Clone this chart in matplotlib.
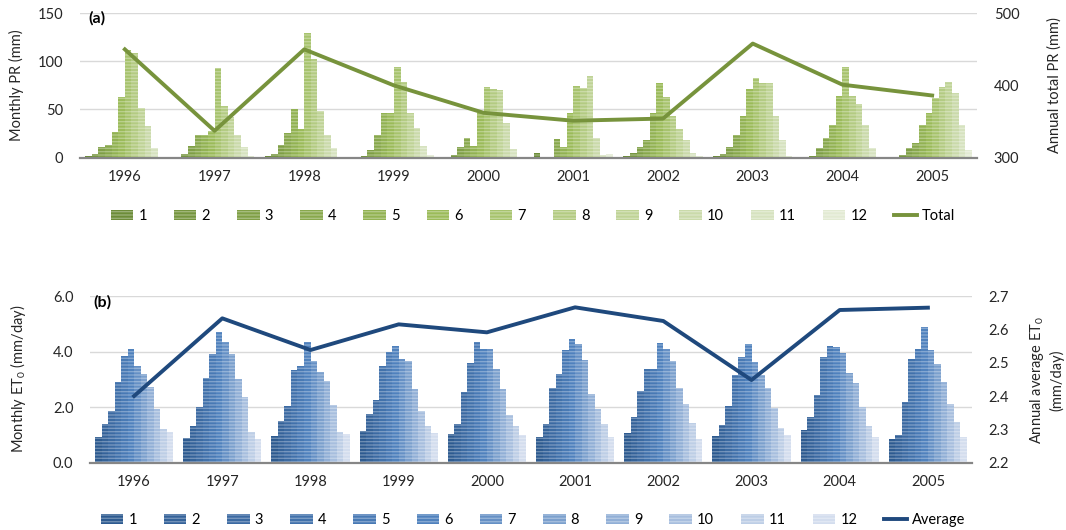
import matplotlib
matplotlib.use("Agg")
import matplotlib.pyplot as plt
import numpy as np
from matplotlib.colors import to_rgb
from matplotlib.lines import Line2D

plt.rcParams['font.family'] = ['Lato', 'DejaVu Sans']
plt.rcParams['mathtext.default'] = 'regular'
plt.rcParams['hatch.linewidth'] = 1.0

years = ["1996", "1997", "1998", "1999", "2000", "2001", "2002", "2003", "2004", "2005"]
months = [str(m) for m in range(1, 13)]

# monthly precipitation (mm), Jan..Dec for each year
pr_1996 = [2, 3.5, 11, 13, 27, 63, 112, 109, 51, 33, 9.5, 1]
pr_1997 = [0.7, 3.5, 12, 23, 23, 28, 93, 54, 42, 23, 11, 2]
pr_1998 = [1.4, 3.5, 13, 26, 50, 30, 130, 102, 48, 23, 9.4, 1]
pr_1999 = [0.8, 1.9, 7.8, 23.5, 46, 46, 94, 79, 46, 31, 12, 2.6]
pr_2000 = [0.5, 3, 11, 20, 12, 46, 73, 71, 70, 36, 8.5, 1]
pr_2001 = [4.2, 0, 0.3, 19, 10.5, 46, 74, 72, 85, 20, 3, 3.5]
pr_2002 = [1.9, 4.3, 11, 18, 46, 78, 63, 43, 30, 18, 4.3, 1.9]
pr_2003 = [1.7, 3.5, 11, 23, 43, 71, 83, 78, 78, 43, 18, 1.7]
pr_2004 = [0.8, 2, 10, 20, 34, 64, 94, 64, 56, 34, 10, 1]
pr_2005 = [0.7, 2.4, 9.4, 15, 34, 46, 62, 73, 79, 67, 34, 7.6]
pr_monthly = [pr_1996, pr_1997, pr_1998, pr_1999, pr_2000,
              pr_2001, pr_2002, pr_2003, pr_2004, pr_2005]
pr_total = [450, 337, 450, 400, 362, 351, 354, 458, 401, 386]

# monthly reference evapotranspiration (mm/day)
et_1996 = [0.94, 1.38, 1.87, 2.91, 3.84, 4.09, 3.48, 3.21, 2.73, 1.92, 1.20, 1.09]
et_1997 = [0.90, 1.33, 1.99, 3.06, 3.90, 4.69, 4.35, 3.90, 3.03, 2.37, 1.09, 0.84]
et_1998 = [0.97, 1.51, 2.04, 3.33, 3.49, 4.35, 3.67, 3.27, 2.94, 2.07, 1.09, 1.03]
et_1999 = [1.14, 1.77, 2.25, 3.48, 3.97, 4.20, 3.72, 3.66, 2.67, 1.86, 1.33, 1.06]
et_2000 = [1.02, 1.38, 2.55, 3.60, 4.35, 4.09, 4.11, 3.37, 2.64, 1.71, 1.33, 1.00]
et_2001 = [0.94, 1.41, 2.70, 3.18, 4.05, 4.47, 4.29, 3.69, 2.49, 1.92, 1.39, 0.94]
et_2002 = [1.06, 1.66, 2.58, 3.39, 3.37, 4.32, 4.11, 3.67, 2.68, 2.10, 1.42, 0.84]
et_2003 = [0.96, 1.36, 2.04, 3.15, 3.81, 4.26, 3.63, 3.15, 2.68, 1.96, 1.24, 1.00]
et_2004 = [1.18, 1.66, 2.44, 3.81, 4.20, 4.18, 3.96, 3.22, 2.88, 2.01, 1.32, 0.94]
et_2005 = [0.85, 1.00, 2.17, 3.75, 4.09, 4.89, 4.05, 3.54, 2.91, 2.10, 1.47, 0.94]
et_monthly = [et_1996, et_1997, et_1998, et_1999, et_2000,
              et_2001, et_2002, et_2003, et_2004, et_2005]
et_average = [2.400, 2.633, 2.538, 2.615, 2.591, 2.666, 2.625, 2.448, 2.658, 2.665]


def month_colors(c_dark, c_mid, c_light):
    a, b, c = (np.array(to_rgb(v)) for v in (c_dark, c_mid, c_light))
    out = []
    for m in range(12):
        if m <= 5:
            t = m / 5
            out.append(tuple(a + (b - a) * t))
        else:
            t = (m - 5) / 6
            out.append(tuple(b + (c - b) * t))
    return out


def lighten(c, f):
    c = np.array(c)
    return tuple(c + (1 - c) * f)


def draw_panel(ax, monthly, colors, line_vals, line_color):
    x = np.arange(len(years))
    w = 0.885 / 12
    handles = []
    for m in range(12):
        vals = [yr[m] for yr in monthly]
        b = ax.bar(x + (m - 5.5) * w, vals, width=w, color=colors[m],
                   edgecolor=lighten(colors[m], 0.3), linewidth=0,
                   hatch='-----', zorder=2)
        handles.append(b)
    ax.set_xlim(-0.5, len(years) - 0.5)
    ax.set_xticks(x)
    ax.set_xticklabels(years)
    ax.grid(axis='y', color='#d9d9d9', linewidth=1.0, zorder=0)
    ax.set_axisbelow(True)
    for s in ['top', 'left', 'right']:
        ax.spines[s].set_visible(False)
    ax.spines['bottom'].set_color('#868686')
    ax.spines['bottom'].set_linewidth(1.6)
    ax.tick_params(axis='x', length=0, pad=9, labelsize=10.5, labelcolor='#262626')
    ax.tick_params(axis='y', length=0, pad=12, labelsize=10.5, labelcolor='#262626')

    ax2 = ax.twinx()
    ax2.plot(x, line_vals, color=line_color, linewidth=2.8, zorder=3)
    for s in ax2.spines.values():
        s.set_visible(False)
    ax2.tick_params(axis='y', length=0, pad=12, labelsize=10.5, labelcolor='#262626')
    handles.append(Line2D([], [], color=line_color, linewidth=2.8))
    return ax2, handles


fig = plt.figure(figsize=(10.66, 5.30), dpi=100)

# (a) precipitation
ax_a = fig.add_axes([80 / 1066, 1 - 157.5 / 530, 897 / 1066, 144.2 / 530])
green = month_colors('#6c8c38', '#9bbb59', '#e2ead3')
ax_a2, h_a = draw_panel(ax_a, pr_monthly, green, pr_total, '#77933c')
ax_a.set_ylim(0, 150)
ax_a.set_yticks([0, 50, 100, 150])
ax_a2.set_ylim(300, 500)
ax_a2.set_yticks([300, 400, 500])
ax_a.set_ylabel("Monthly PR (mm)", fontsize=10.5, color='#262626')
ax_a.yaxis.set_label_coords(-0.062, 0.5)
ax_a2.set_ylabel("Annual total PR (mm)", fontsize=10.5, color='#262626')
ax_a2.yaxis.set_label_coords(1.078, 0.5)
ax_a.text(0.009, 0.965, "(a)", transform=ax_a.transAxes, fontsize=11.5,
          fontweight='bold', va='center', ha='left')
fig.legend(h_a, months + ["Total"], loc='center', bbox_to_anchor=(0.5, 1 - 216 / 530),
           ncol=13, frameon=False, fontsize=10.5, handlelength=1.55, handleheight=0.75,
           handletextpad=0.35, columnspacing=1.85)

# (b) reference evapotranspiration
ax_b = fig.add_axes([90 / 1066, 1 - 462.7 / 530, 882 / 1066, 166.7 / 530])
blue = month_colors('#2d5a90', '#4f81bd', '#d3ddee')
ax_b2, h_b = draw_panel(ax_b, et_monthly, blue, et_average, '#1f497d')
ax_b.set_ylim(0, 6)
ax_b.set_yticks([0, 2, 4, 6])
ax_b.yaxis.set_major_formatter(plt.FormatStrFormatter('%.1f'))
ax_b2.set_ylim(2.2, 2.7)
ax_b2.set_yticks([2.2, 2.3, 2.4, 2.5, 2.6, 2.7])
ax_b2.yaxis.set_major_formatter(plt.FormatStrFormatter('%.1f'))
ax_b.set_ylabel("Monthly ET$_0$ (mm/day)", fontsize=10.5, color='#262626')
ax_b.yaxis.set_label_coords(-0.07, 0.5)
# two-line right axis title, placed in figure pixels so it stays inside the canvas
fig.text(1046 / 1066, 1 - 380 / 530, "Annual average ET$_0$\n(mm/day)", rotation=90,
         ha='center', va='center', multialignment='center', fontsize=10.5,
         color='#262626', linespacing=1.25)
ax_b.text(0.004, 0.962, "(b)", transform=ax_b.transAxes, fontsize=11.5,
          fontweight='bold', va='center', ha='left')
fig.legend(h_b, months + ["Average"], loc='center', bbox_to_anchor=(0.5, 1 - 520 / 530),
           ncol=13, frameon=False, fontsize=10.5, handlelength=1.55, handleheight=0.75,
           handletextpad=0.35, columnspacing=1.85)

fig.savefig("out.png", dpi=100)
